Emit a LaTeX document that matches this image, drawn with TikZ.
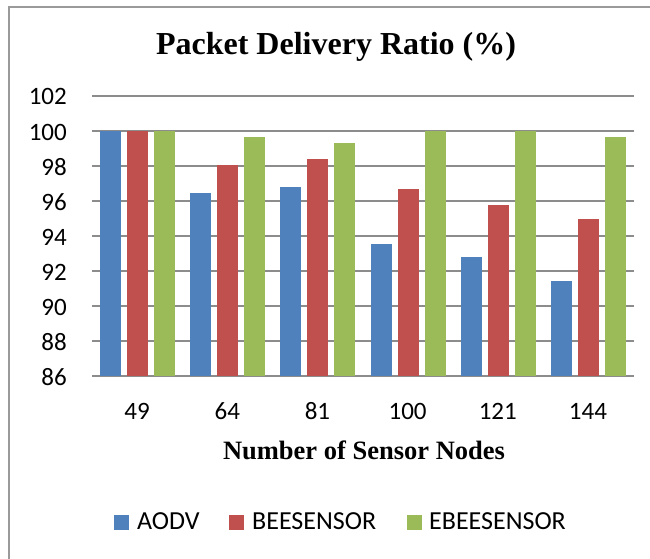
\documentclass[tikz,border=0pt]{standalone}
\usepackage{fontspec}
\setmainfont{Liberation Serif}
\newfontfamily\calib{Carlito}
\usepackage{tikz}
\usetikzlibrary{positioning}
\definecolor{aodvcol}{HTML}{4F81BD}
\definecolor{beecol}{HTML}{C0504D}
\definecolor{ebeecol}{HTML}{9BBB59}
\definecolor{gridcol}{HTML}{8C8C8C}
\definecolor{framecol}{HTML}{9A9A9A}
\tikzstyle{gridline} = [draw=gridcol, line width=2pt]
\tikzstyle{ticklab} = [inner sep=0pt, font=\calib\fontsize{25}{25}\selectfont]
\tikzstyle{bigtitle} = [inner sep=0pt, font=\bfseries\fontsize{32}{32}\selectfont]

\begin{document}
\begin{tikzpicture}[x=1pt, y=-1pt,
		keybox/.style={minimum size=15pt, inner sep=0pt},
		keylab/.style={inner sep=0pt, anchor=base west, font=\calib\fontsize{26}{26}\selectfont}]
		\useasboundingbox (0,0) rectangle (650,559);
		%% Frame
		\draw [framecol, line width=2pt] (9,559) -- (9,7) -- (650,7);
		%% Grid and y labels
		\foreach \v in {86,88,...,102} {
			\pgfmathsetmacro{\yy}{131+(100-\v)*17.5}
			\draw [gridline] (92,\yy) -- (634,\yy);
			\node [ticklab, anchor=base east] (y\v) at (67,\yy+9) {\v};
		}
		%% Bars
		\foreach \n/\a/\b/\c [count=\i] in {49/100/100/100, 64/96.45/98.05/99.65,
			81/96.8/98.4/99.3, 100/93.55/96.7/100, 121/92.8/95.75/100, 144/91.45/94.95/99.65} {
			\pgfmathsetmacro{\cx}{92+90.17*(\i-0.5)}
			\fill [aodvcol] (\cx-37,376) rectangle (\cx-16,{131+(100-\a)*17.5});
			\fill [beecol] (\cx-10,376) rectangle (\cx+11,{131+(100-\b)*17.5});
			\fill [ebeecol] (\cx+17,376) rectangle (\cx+38,{131+(100-\c)*17.5});
			\node [ticklab, anchor=base] (x\n) at (\cx,419) {\n};
		}
		%% Titles
		\node [bigtitle, anchor=base] (title) at (336,55) {Packet Delivery Ratio (\%)};
		\node [inner sep=0pt, anchor=base, font=\bfseries\fontsize{26.5}{26.5}\selectfont] (xtitle) at (364,459) {Number of Sensor Nodes};
		%% Legend
		\node [keybox, fill=aodvcol] (kaodv) at (121.5,522) {};
		\node [keylab] (laodv) at (137,529) {AODV};
		\node [keybox, fill=beecol] (kbee) at (236.5,522) {};
		\node [keylab] (lbee) at (252,529) {BEESENSOR};
		\node [keybox, fill=ebeecol] (kebee) at (414.5,522) {};
		\node [keylab] (lebee) at (429,529) {EBEESENSOR};
\end{tikzpicture}
\end{document}
